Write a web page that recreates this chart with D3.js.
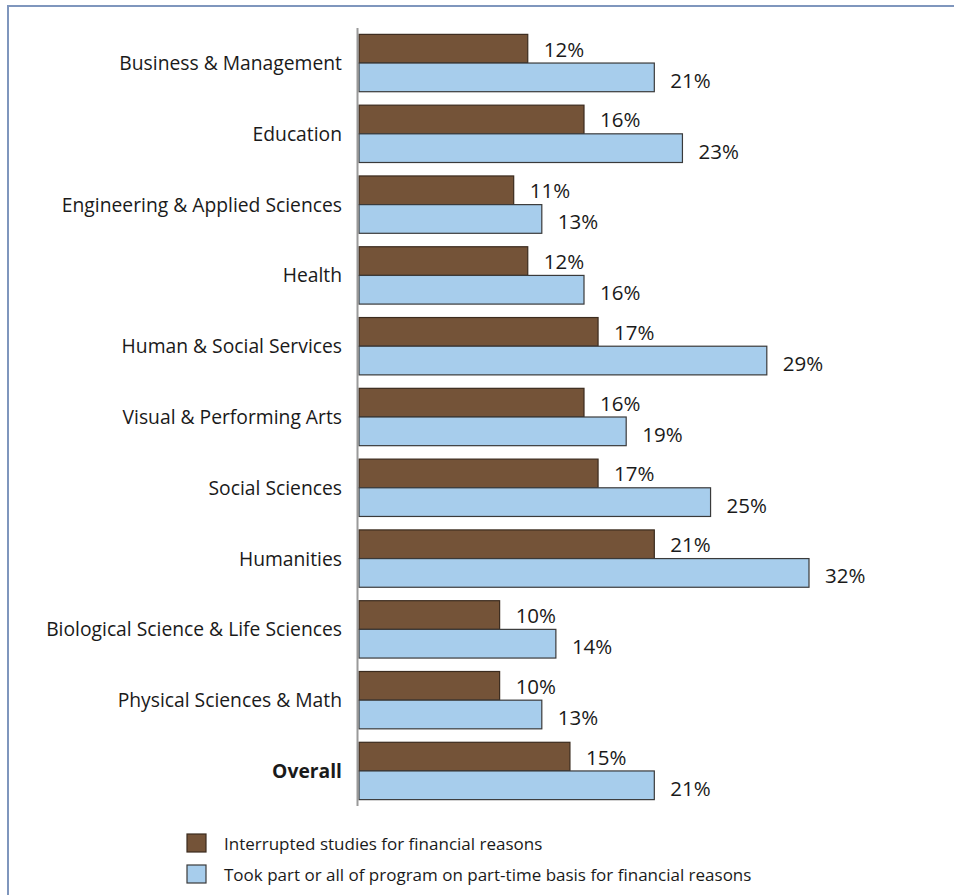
<!DOCTYPE html>
<html>
<head>
<meta charset="utf-8">
<script src="https://cdn.jsdelivr.net/npm/d3@7"></script>
<style>
  html, body { margin: 0; padding: 0; background: #fff; }
  svg { display: block; }
  text { font-family: "Open Sans", "Noto Sans", sans-serif; fill: #1a1a1a; }
</style>
</head>
<body>
<svg id="chart" width="954" height="895"></svg>
<script>
// Fields of study, top to bottom
const categories = [
  "Business & Management",
  "Education",
  "Engineering & Applied Sciences",
  "Health",
  "Human & Social Services",
  "Visual & Performing Arts",
  "Social Sciences",
  "Humanities",
  "Biological Science & Life Sciences",
  "Physical Sciences & Math",
  "Overall"
];

// Percent of students, per field
const interrupted = [12, 16, 11, 12, 17, 16, 17, 21, 10, 10, 15];
const partTime    = [21, 23, 13, 16, 29, 19, 25, 32, 14, 13, 21];

const seriesNames = [
  "Interrupted studies for financial reasons",
  "Took part or all of program on part-time basis for financial reasons"
];
const seriesColors = ["#745338", "#a7cdec"];
const seriesStrokes = ["#3b2b1e", "#3a3a3a"];

const svg = d3.select("#chart");

// Page frame
svg.append("path")
  .attr("d", "M8,960 L8,6 L1000,6")
  .attr("fill", "none")
  .attr("stroke", "#7f96bd")
  .attr("stroke-width", 2);

const x0 = 359;
const x = d3.scaleLinear().domain([0, 32]).range([x0, x0 + 450]);

const y = d3.scaleBand()
  .domain(categories)
  .range([28, 806])
  .paddingInner(0.19)
  .paddingOuter(0.09);

const ySub = d3.scaleBand()
  .domain([0, 1])
  .range([0, y.bandwidth()]);

const rows = categories.map((c, i) => ({
  cat: c,
  vals: [interrupted[i], partTime[i]]
}));

const groups = svg.append("g").selectAll("g")
  .data(rows)
  .join("g")
  .attr("transform", d => `translate(0,${y(d.cat)})`);

groups.selectAll("rect")
  .data(d => d.vals.map((v, s) => ({ v, s })))
  .join("rect")
  .attr("x", x(0))
  .attr("y", d => ySub(d.s))
  .attr("width", d => x(d.v) - x(0))
  .attr("height", ySub.bandwidth())
  .attr("fill", d => seriesColors[d.s])
  .attr("stroke", d => seriesStrokes[d.s])
  .attr("stroke-width", 1.2);

groups.selectAll("text.val")
  .data(d => d.vals.map((v, s) => ({ v, s })))
  .join("text")
  .attr("class", "val")
  .attr("x", d => x(d.v) + 16)
  .attr("y", d => ySub(d.s) + ySub.bandwidth() / 2 + (d.s === 0 ? 8 : 10.5))
  .attr("font-size", 20.5)
  .text(d => d.v + "%");

// Category labels
groups.append("text")
  .attr("x", 342)
  .attr("y", y.bandwidth() / 2 + 7)
  .attr("text-anchor", "end")
  .attr("font-size", 19.3)
  .attr("font-weight", d => d.cat === "Overall" ? 700 : 400)
  .text(d => d.cat);

// Vertical axis line
svg.append("line")
  .attr("x1", 357.5).attr("x2", 357.5)
  .attr("y1", 28).attr("y2", 806)
  .attr("stroke", "#9a9a9a")
  .attr("stroke-width", 2);

// Legend
const legend = svg.append("g").attr("transform", "translate(187,834)");
const li = legend.selectAll("g")
  .data(seriesNames)
  .join("g")
  .attr("transform", (d, i) => `translate(0,${i * 31})`);
li.append("rect")
  .attr("width", 19).attr("height", 18)
  .attr("fill", (d, i) => seriesColors[i])
  .attr("stroke", (d, i) => seriesStrokes[i])
  .attr("stroke-width", 1.2);
li.append("text")
  .attr("x", 37)
  .attr("y", 16)
  .attr("font-size", 17)
  .text(d => d);
</script>
</body>
</html>
